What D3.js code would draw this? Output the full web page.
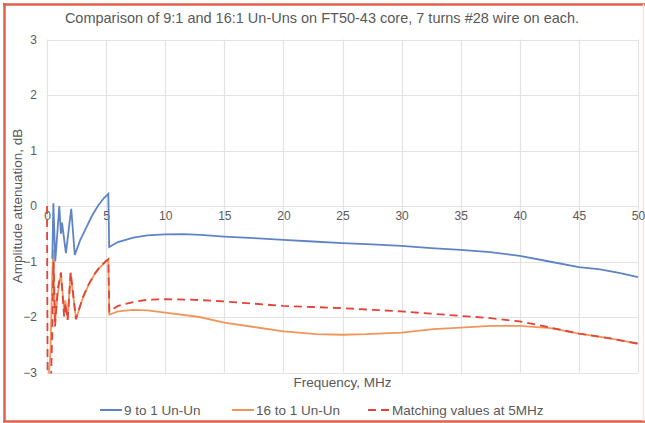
<!DOCTYPE html>
<html>
<head>
<meta charset="utf-8">
<script src="https://cdn.jsdelivr.net/npm/d3@7"></script>
<style>
  body { margin: 0; background: #fff; }
  text { font-family: "Liberation Sans", Arial, sans-serif; fill: #595959; }
</style>
</head>
<body>
<svg id="chart" width="645" height="423"></svg>
<script>
// 9 to 1 Un-Un
const freq9 = [0.45, 0.54, 0.7, 1.04, 1.18, 1.27, 1.6, 2.05, 2.35, 2.8, 3.3, 3.8, 4.3, 4.8, 5.19, 5.26, 6, 7.3, 8.5, 10, 11.5, 13, 15, 17.5, 20, 22.5, 25, 27.5, 30, 32.5, 35, 37.5, 40, 42.5, 45, 46.8, 48.5, 50];
const db9 = [-0.95, 0.05, -1.0, 0.0, -0.5, -0.3, -0.85, -0.05, -0.88, -0.62, -0.4, -0.18, 0.0, 0.14, 0.22, -0.74, -0.65, -0.57, -0.53, -0.51, -0.505, -0.52, -0.55, -0.58, -0.61, -0.64, -0.67, -0.69, -0.72, -0.76, -0.79, -0.83, -0.9, -1.0, -1.1, -1.14, -1.21, -1.28];

// 16 to 1 Un-Un
const freq16 = [0.15, 0.3, 0.45, 0.54, 0.68, 0.9, 1.18, 1.45, 1.55, 1.75, 2.0, 2.45, 3.0, 3.5, 4.0, 4.5, 5.0, 5.19, 5.27, 6, 7.3, 8.5, 10, 12.9, 15, 17.5, 20, 22.8, 25, 27, 30, 32.7, 35, 37.5, 40, 42.6, 45, 47.5, 50];
const db16 = [-3.05, -2.6, -1.2, -0.78, -2.1, -1.6, -1.2, -1.9, -1.7, -2.05, -1.2, -2.04, -1.68, -1.43, -1.24, -1.1, -1.0, -0.96, -1.96, -1.9, -1.87, -1.88, -1.92, -2.0, -2.1, -2.18, -2.26, -2.31, -2.32, -2.31, -2.28, -2.22, -2.19, -2.16, -2.16, -2.2, -2.3, -2.38, -2.48];

// Matching values at 5MHz
const freqMatch = [0, 0.05, 0.35, 0.45, 0.55, 0.68, 0.9, 1.18, 1.45, 1.55, 1.75, 2.0, 2.45, 3.0, 3.5, 4.0, 4.5, 5.0, 5.19, 5.27, 6, 7.3, 8.5, 10, 12.5, 15, 17.5, 20, 22.5, 25, 27.5, 30, 32.5, 35, 37.5, 40, 42.6, 45, 47.5, 50];
const dbMatch = [0, -3.05, -3.05, -2.2, -1.0, -2.17, -1.5, -1.2, -2.0, -1.75, -2.05, -1.2, -2.04, -1.66, -1.42, -1.23, -1.09, -0.99, -0.96, -1.9, -1.8, -1.73, -1.69, -1.68, -1.69, -1.72, -1.76, -1.8, -1.82, -1.84, -1.87, -1.9, -1.94, -1.98, -2.02, -2.08, -2.19, -2.3, -2.38, -2.48];

const xTicks = [0, 5, 10, 15, 20, 25, 30, 35, 40, 45, 50];
const yTicks = [3, 2, 1, 0, -1, -2, -3];
const seriesNames = ["9 to 1 Un-Un", "16 to 1 Un-Un", "Matching values at 5MHz"];

const svg = d3.select("#chart");
const plot = { left: 47, right: 638, top: 39.5, bottom: 372.5 };

const x = d3.scaleLinear().domain([0, 50]).range([plot.left, plot.right]);
const y = d3.scaleLinear().domain([-3, 3]).range([plot.bottom, plot.top]);

// outer frame
svg.append("line").attr("x1", 4.5).attr("x2", 4.5).attr("y1", 3).attr("y2", 422)
  .attr("stroke", "#e0604e").attr("stroke-width", 2.5);
svg.append("line").attr("x1", 3).attr("x2", 645).attr("y1", 4.5).attr("y2", 4.5)
  .attr("stroke", "#e0604e").attr("stroke-width", 2.5);
svg.append("line").attr("x1", 3).attr("x2", 645).attr("y1", 421.5).attr("y2", 421.5)
  .attr("stroke", "#e0604e").attr("stroke-width", 2.5);
svg.append("line").attr("x1", 643.5).attr("x2", 643.5).attr("y1", 4).attr("y2", 421)
  .attr("stroke", "#f8e4df").attr("stroke-width", 1.5);

// title
svg.append("text").attr("x", 322).attr("y", 23).attr("text-anchor", "middle")
  .style("font-size", "14.5px")
  .text("Comparison of 9:1 and 16:1 Un-Uns on FT50-43 core, 7 turns #28 wire on each.");

// gridlines
svg.append("g").selectAll("line").data(yTicks).join("line")
  .attr("x1", plot.left).attr("x2", plot.right)
  .attr("y1", d => Math.round(y(d)) + 0.5).attr("y2", d => Math.round(y(d)) + 0.5)
  .attr("stroke", "#e3e3e3").attr("stroke-width", 1.2);
svg.append("g").selectAll("line").data(xTicks).join("line")
  .attr("y1", plot.top).attr("y2", plot.bottom)
  .attr("x1", d => Math.round(x(d)) + 0.5).attr("x2", d => Math.round(x(d)) + 0.5)
  .attr("stroke", "#e3e3e3").attr("stroke-width", 1.2);

// y axis labels
const yAxis = d3.axisLeft(y).tickValues(yTicks).tickFormat(d3.format("d")).tickSize(0).tickPadding(10);
svg.append("g").attr("transform", `translate(${plot.left},0)`).call(yAxis)
  .call(g => g.select(".domain").remove())
  .call(g => g.selectAll("text").style("font-size", "12px").attr("fill", "#595959"));

// x axis labels sit below the zero line
const xAxis = d3.axisBottom(x).tickValues(xTicks).tickFormat(d3.format("d")).tickSize(0).tickPadding(5);
svg.append("g").attr("transform", `translate(0,${y(0)})`).call(xAxis)
  .call(g => g.select(".domain").remove())
  .call(g => g.selectAll("text").style("font-size", "12px").attr("fill", "#595959"));

// axis titles
svg.append("text").attr("x", (plot.left + plot.right) / 2).attr("y", 387)
  .attr("text-anchor", "middle").style("font-size", "13.5px").text("Frequency, MHz");
svg.append("text").attr("transform", `translate(22,${(plot.top + plot.bottom) / 2}) rotate(-90)`)
  .attr("text-anchor", "middle").style("font-size", "13.5px").text("Amplitude attenuation, dB");

// clip lines to plot area
svg.append("clipPath").attr("id", "clip").append("rect")
  .attr("x", plot.left - 2).attr("y", plot.top).attr("width", plot.right - plot.left + 4)
  .attr("height", plot.bottom - plot.top + 1);

const line = d3.line().x(d => x(d[0])).y(d => y(d[1]));
const lines = svg.append("g").attr("clip-path", "url(#clip)");

lines.append("path").datum(d3.zip(freq16, db16))
  .attr("d", line).attr("fill", "none").attr("stroke", "#f0965a").attr("stroke-width", 1.8);
lines.append("path").datum(d3.zip(freqMatch, dbMatch))
  .attr("d", line).attr("fill", "none").attr("stroke", "#e0443a").attr("stroke-width", 1.8)
  .attr("stroke-dasharray", "8,5");
lines.append("path").datum(d3.zip(freq9, db9))
  .attr("d", line).attr("fill", "none").attr("stroke", "#5f84c6").attr("stroke-width", 1.8);

// legend
const legendItems = [
  { name: seriesNames[0], color: "#5f84c6", dash: null, x: 100 },
  { name: seriesNames[1], color: "#f0965a", dash: null, x: 232 },
  { name: seriesNames[2], color: "#e0443a", dash: "8,5", x: 368 }
];
const lg = svg.append("g").selectAll("g").data(legendItems).join("g")
  .attr("transform", d => `translate(${d.x},410)`);
lg.append("line").attr("x1", 0).attr("x2", 22).attr("y1", 0).attr("y2", 0)
  .attr("stroke", d => d.color).attr("stroke-width", 2)
  .attr("stroke-dasharray", d => d.dash);
lg.append("text").attr("x", 24).attr("y", 5).style("font-size", "13.5px").text(d => d.name);
</script>
</body>
</html>
